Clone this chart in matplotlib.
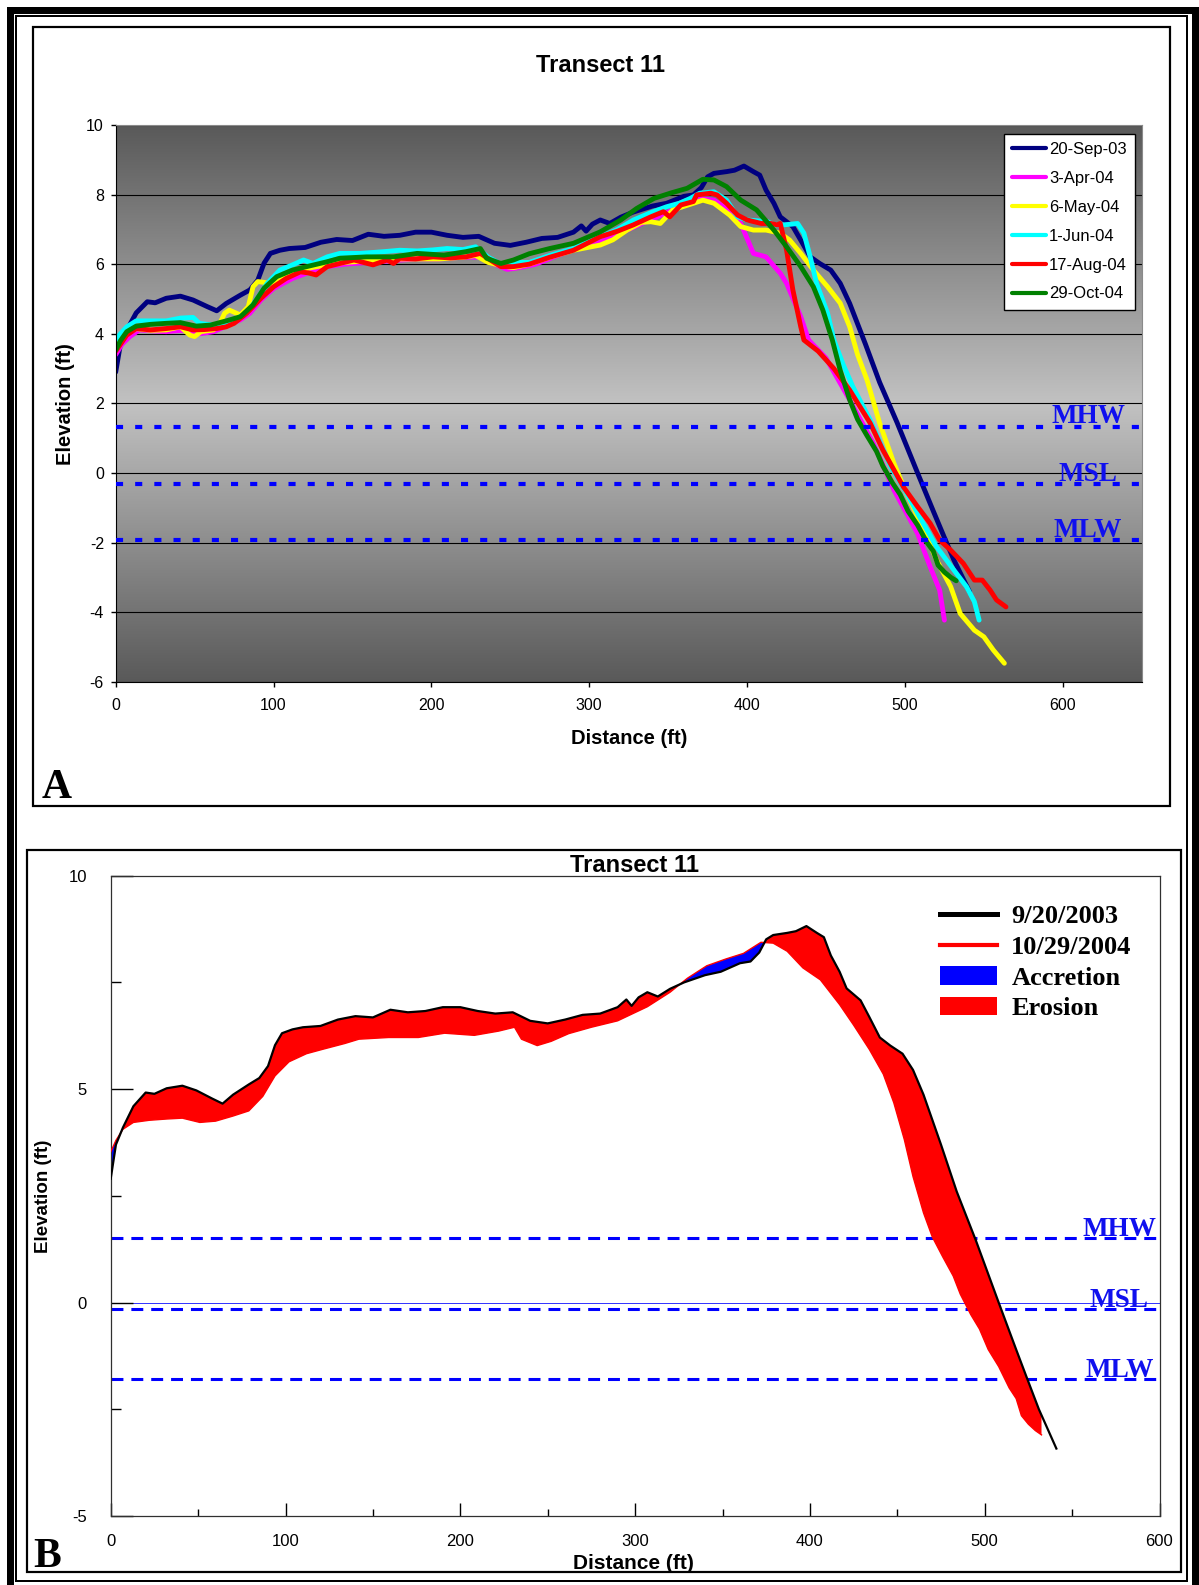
import numpy as np
import matplotlib
matplotlib.use("Agg")
import matplotlib.pyplot as plt
from matplotlib.patches import Rectangle, Patch
from matplotlib.lines import Line2D
from matplotlib.ticker import MultipleLocator

W, H, DPI = 1199, 1585, 100

# ---- beach profile surveys, Transect 11 (distance ft, elevation ft) ----
sep03_x = [0, 3, 7, 13, 20, 25, 32, 41, 49, 58, 64, 70, 79, 85, 90, 94, 98, 104, 110, 120,
           130, 140, 150, 160, 170, 180, 190, 200, 210, 220, 230, 240, 250, 260, 270, 280,
           290, 295, 298, 302, 307, 313, 320, 328, 340, 349, 360, 366, 371, 375, 379, 387,
           392, 398, 404, 408, 412, 417, 421, 425, 429, 434, 440, 446, 453, 459, 465, 475,
           484, 495, 508, 518, 524, 531, 541]
sep03_y = [2.9, 3.7, 4.1, 4.6, 4.92, 4.89, 5.02, 5.08, 4.97, 4.78, 4.66, 4.87, 5.11, 5.26,
           5.54, 6.03, 6.31, 6.4, 6.45, 6.48, 6.63, 6.71, 6.68, 6.86, 6.8, 6.83, 6.92, 6.92,
           6.83, 6.77, 6.8, 6.6, 6.54, 6.63, 6.74, 6.77, 6.92, 7.1, 6.95, 7.15, 7.27, 7.17,
           7.35, 7.5, 7.67, 7.75, 7.95, 7.99, 8.2, 8.51, 8.61, 8.66, 8.7, 8.82, 8.66, 8.56,
           8.13, 7.75, 7.36, 7.22, 7.08, 6.69, 6.21, 6.02, 5.83, 5.45, 4.87, 3.7, 2.6, 1.45,
           0.0, -1.1, -1.75, -2.5, -3.42]

apr04_x = [0, 4, 9, 15, 25, 32, 42, 53, 62, 70, 79, 85, 92, 100, 112, 121, 134, 145, 160,
           175, 190, 205, 220, 232, 240, 248, 256, 266, 280, 292, 305, 320, 335, 350, 362,
           370, 379, 387, 396, 404, 412, 421, 425, 434, 439, 450, 465, 480, 493, 508, 516,
           522, 525]
apr04_y = [3.4, 3.7, 3.92, 4.11, 4.08, 4.06, 4.1, 4.0, 4.06, 4.22, 4.4, 4.59, 4.97, 5.3,
           5.59, 5.74, 5.93, 6.0, 6.05, 6.1, 6.15, 6.15, 6.2, 6.2, 6.0, 5.85, 5.9, 6.0, 6.25,
           6.45, 6.65, 6.9, 7.2, 7.5, 7.75, 7.89, 7.84, 7.6, 7.17, 6.31, 6.21, 5.74, 5.45,
           4.49, 3.82, 3.3, 2.1, 0.85, -0.49, -1.74, -2.7, -3.37, -4.23]

may04_x = [0, 3, 7, 13, 22, 32, 41, 47, 50, 54, 62, 66, 69, 72, 76, 79, 84, 87, 90, 95, 100,
           108, 118, 130, 145, 160, 175, 190, 205, 220, 228, 236, 245, 252, 262, 275, 290,
           307, 315, 324, 333, 339, 345, 353, 366, 372, 379, 389, 396, 404, 412, 421, 427,
           434, 442, 451, 459, 465, 470, 476, 484, 493, 501, 512, 520, 529, 535, 544, 550,
           556, 563]
may04_y = [3.6, 3.8, 4.0, 4.15, 4.1, 4.11, 4.2, 3.96, 3.92, 4.06, 4.11, 4.3, 4.59, 4.68,
           4.6, 4.54, 4.78, 5.35, 5.5, 5.47, 5.45, 5.69, 5.85, 5.95, 6.05, 6.1, 6.15, 6.15,
           6.15, 6.2, 6.25, 6.05, 5.95, 5.9, 6.0, 6.2, 6.4, 6.55, 6.7, 6.98, 7.2, 7.22, 7.17,
           7.56, 7.75, 7.84, 7.75, 7.41, 7.08, 6.98, 6.98, 6.89, 6.69, 6.31, 5.83, 5.35, 4.88,
           4.2, 3.4, 2.67, 1.43, 0.28, -0.59, -1.64, -2.5, -3.27, -4.04, -4.52, -4.71, -5.09,
           -5.47]

jun04_x = [0, 3, 7, 13, 22, 32, 41, 49, 53, 58, 64, 70, 75, 83, 89, 96, 104, 112, 119, 125,
           134, 142, 155, 170, 180, 191, 201, 210, 220, 228, 236, 244, 252, 262, 275, 290,
           307, 318, 328, 340, 349, 357, 364, 370, 379, 387, 394, 400, 406, 413, 417, 423,
           428, 432, 436, 440, 444, 451, 455, 461, 467, 478, 491, 500, 508, 520, 531, 539,
           544, 547]
jun04_y = [3.82, 4.0, 4.2, 4.37, 4.37, 4.37, 4.45, 4.47, 4.3, 4.27, 4.25, 4.3, 4.4, 4.59,
           4.97, 5.45, 5.83, 5.98, 6.12, 6.02, 6.21, 6.31, 6.31, 6.36, 6.4, 6.38, 6.41, 6.45,
           6.42, 6.5, 6.2, 6.0, 6.05, 6.05, 6.25, 6.45, 6.79, 7.0, 7.27, 7.5, 7.65, 7.75,
           7.89, 8.04, 8.08, 7.84, 7.36, 7.27, 7.25, 7.22, 7.13, 7.13, 7.15, 7.17, 6.89, 6.21,
           5.45, 4.59, 3.82, 3.1, 2.48, 1.52, 0.18, -0.5, -1.16, -2.12, -2.79, -3.27, -3.7,
           -4.23]

aug04_x = [0, 3, 7, 13, 22, 32, 41, 49, 56, 64, 70, 75, 83, 92, 100, 108, 117, 122, 127,
           134, 142, 151, 157, 163, 172, 176, 180, 190, 201, 212, 222, 231, 238, 244, 252,
           262, 275, 290, 307, 318, 328, 339, 347, 351, 358, 366, 368, 377, 381, 387, 394,
           400, 409, 415, 419, 421, 425, 429, 434, 436, 445, 455, 465, 478, 486, 499, 508,
           516, 522, 529, 537, 544, 549, 554, 558, 564]
aug04_y = [3.5, 3.7, 3.96, 4.15, 4.11, 4.15, 4.2, 4.11, 4.12, 4.15, 4.2, 4.3, 4.59, 5.02,
           5.35, 5.59, 5.78, 5.75, 5.69, 5.93, 6.02, 6.12, 6.05, 5.98, 6.12, 6.02, 6.17,
           6.15, 6.21, 6.18, 6.21, 6.31, 6.1, 5.93, 5.93, 6.0, 6.2, 6.4, 6.79, 6.95, 7.13,
           7.36, 7.51, 7.36, 7.7, 7.8, 7.99, 8.04, 7.99, 7.75, 7.41, 7.27, 7.17, 7.17, 7.13,
           7.17, 6.41, 5.26, 4.2, 3.82, 3.5, 3.0, 2.38, 1.43, 0.66, -0.4, -0.97, -1.45,
           -1.93, -2.22, -2.6, -3.08, -3.08, -3.37, -3.65, -3.85]

oct04_x = [0, 3, 7, 13, 22, 32, 41, 51, 60, 70, 79, 87, 94, 102, 112, 121, 134, 142, 159,
           176, 191, 208, 222, 231, 235, 244, 252, 262, 275, 290, 307, 320, 330, 341, 352,
           362, 372, 379, 387, 396, 406, 417, 425, 434, 442, 448, 454, 459, 465, 470, 476,
           482, 486, 492, 497, 502, 508, 514, 518, 521, 525, 529, 532.5]
oct04_y = [3.53, 3.8, 4.06, 4.22, 4.27, 4.3, 4.32, 4.22, 4.25, 4.37, 4.49, 4.83, 5.31, 5.64,
           5.83, 5.93, 6.07, 6.17, 6.21, 6.21, 6.31, 6.26, 6.36, 6.45, 6.17, 6.02, 6.12, 6.3,
           6.45, 6.6, 6.93, 7.27, 7.6, 7.89, 8.05, 8.18, 8.44, 8.42, 8.23, 7.84, 7.56, 6.98,
           6.5, 5.93, 5.35, 4.68, 3.82, 2.95, 2.1, 1.54, 1.07, 0.62, 0.2, -0.28, -0.62, -1.1,
           -1.5, -2.0, -2.25, -2.65, -2.85, -3.0, -3.1]

survey_labels = ['20-Sep-03', '3-Apr-04', '6-May-04', '1-Jun-04', '17-Aug-04', '29-Oct-04']
survey_colors = ['#000080', '#ff00ff', '#ffff00', '#00ffff', '#ff0000', '#008000']
survey_x = [sep03_x, apr04_x, may04_x, jun04_x, aug04_x, oct04_x]
survey_y = [sep03_y, apr04_y, may04_y, jun04_y, aug04_y, oct04_y]

# tidal datums (ft) as plotted in each panel
datum_names = ['MHW', 'MSL', 'MLW']
datum_a = [1.33, -0.32, -1.93]
datum_b = [1.52, -0.14, -1.78]

change_labels = ['9/20/2003', '10/29/2004', 'Accretion', 'Erosion']

plt.rcParams['font.family'] = ['Liberation Sans', 'DejaVu Sans']
plt.rcParams['axes.unicode_minus'] = False
SERIF = ['Liberation Serif', 'DejaVu Serif']

fig = plt.figure(figsize=(W / DPI, H / DPI), dpi=DPI)


def fx(px):
    return px / W


def fy(py):
    return 1 - py / H


def frame(x0, y0, x1, y1, lw_px, color='black'):
    fig.patches.append(Rectangle((fx(x0), fy(y1)), fx(x1) - fx(x0), fy(y0) - fy(y1),
                                 transform=fig.transFigure, fill=False,
                                 lw=lw_px * 0.72, ec=color, zorder=10))


# page borders
frame(9.5, 9.5, 1195, 1592, 7)
frame(15.5, 16, 1187.5, 1581, 2)
frame(33, 27, 1170, 806, 2.2)
frame(27, 850, 1181, 1572, 2.2)

# ================= Panel A: all surveys =================
axA = fig.add_axes([fx(115.7), fy(681.7), fx(1141.7) - fx(115.7), fy(125) - fy(681.7)])
axA.set_xlim(0, 650)
axA.set_ylim(-6, 10)

# grey plot-area fill, light in the middle and darker to top and bottom
t = np.abs(np.linspace(-1, 1, 400))
dark, light = np.array([0.35, 0.35, 0.35]), np.array([0.76, 0.76, 0.76])
grad = light[None, :] - (light - dark)[None, :] * t[:, None]
axA.imshow(grad[:, None, :], extent=(0, 650, -6, 10), aspect='auto', zorder=0,
           interpolation='bilinear')

axA.set_axisbelow(True)
axA.set_yticks(np.arange(-6, 11, 2))
axA.set_xticks(np.arange(0, 601, 100))
axA.grid(axis='y', color='black', lw=0.8)
axA.tick_params(direction='out', length=3.5, width=1, labelsize=11.5, colors='black')
axA.tick_params(axis='y', pad=5)
axA.tick_params(axis='x', pad=8.5)
for s in ['top', 'right']:
    axA.spines[s].set_color('#8a8a8a')
for s in ['left', 'bottom']:
    axA.spines[s].set_color('black')

for xs, ys, c, lab in zip(survey_x, survey_y, survey_colors, survey_labels):
    axA.plot(xs, ys, color=c, lw=3.5, label=lab, solid_capstyle='round', zorder=2)

for name, lvl in zip(datum_names, datum_a):
    axA.axhline(lvl, color='#0000ff', lw=3, ls=(0, (1.7, 2.9)), zorder=3)
    axA.text(616, lvl + 0.1, name, color='#1010ee', ha='center', va='baseline',
             family=SERIF, weight='bold', size=19.5, zorder=4)

legA = axA.legend(loc='upper left', bbox_to_anchor=(fx(1004), fy(134)),
                  bbox_transform=fig.transFigure, borderaxespad=0, fontsize=12,
                  handlelength=2.0, handletextpad=0.2, labelspacing=0.83,
                  borderpad=0.5, fancybox=False, framealpha=1, edgecolor='black')
legA.get_frame().set_linewidth(1)
for ln in legA.get_lines():
    ln.set_linewidth(3)

fig.text(fx(600), fy(65), 'Transect 11', ha='center', va='center', weight='bold',
         size=17)
axA.set_ylabel('Elevation (ft)', weight='bold', size=14.5)
axA.yaxis.set_label_coords(fx(75), fy(404), transform=fig.transFigure)
axA.set_xlabel('Distance (ft)', weight='bold', size=14.5)
axA.xaxis.set_label_coords(fx(629), fy(729), transform=fig.transFigure)
fig.text(fx(42), fy(798), 'A', family=SERIF, weight='bold', size=30, va='baseline')

# ================= Panel B: change between first and last survey =================
axB = fig.add_axes([fx(110.7), fy(1516), fx(1159.5) - fx(110.7), fy(875.7) - fy(1516)])
axB.set_xlim(0, 600)
axB.set_ylim(-5, 10)

x_end = min(sep03_x[-1], oct04_x[-1])
xg = np.linspace(0, x_end, 3000)
old = np.interp(xg, sep03_x, sep03_y)
new = np.interp(xg, oct04_x, oct04_y)
axB.fill_between(xg, old, new, where=new < old, interpolate=True, color='#ff0000',
                 lw=0, zorder=2)
axB.fill_between(xg, old, new, where=new >= old, interpolate=True, color='#0000ff',
                 lw=0, zorder=2)
axB.plot(oct04_x, oct04_y, color='#ff0000', lw=1.0, zorder=3)
axB.plot(sep03_x, sep03_y, color='black', lw=1.6, zorder=4)

axB.axhline(0, color='#3030ff', lw=0.7, zorder=1)
for name, lvl in zip(datum_names, datum_b):
    axB.axhline(lvl, color='#0000ff', lw=2.2, ls=(0, (3.9, 2.6)), zorder=1)
    axB.text(577, lvl + 0.03, name, color='#1010ee', ha='center', va='baseline',
             family=SERIF, weight='bold', size=19.5, zorder=5)

axB.xaxis.set_major_locator(MultipleLocator(100))
axB.xaxis.set_minor_locator(MultipleLocator(50))
axB.yaxis.set_major_locator(MultipleLocator(5))
axB.yaxis.set_minor_locator(MultipleLocator(2.5))
axB.tick_params(axis='y', which='major', direction='in', length=16, width=1, pad=17,
                labelsize=12)
axB.tick_params(axis='y', which='minor', direction='in', length=7, width=1)
axB.tick_params(axis='x', which='major', direction='in', length=9.5, width=1, pad=13,
                labelsize=12)
axB.tick_params(axis='x', which='minor', direction='in', length=5, width=1)
for s in axB.spines.values():
    s.set_color('#303030')
    s.set_linewidth(0.9)

handles = [Line2D([], [], color='black', lw=3.6),
           Line2D([], [], color='#ff0000', lw=3.0),
           Patch(fc='#0000ff', ec='none'),
           Patch(fc='#ff0000', ec='none')]
axB.legend(handles, change_labels, loc='upper left', bbox_to_anchor=(fx(940), fy(905)),
           bbox_transform=fig.transFigure, frameon=False, borderpad=0, borderaxespad=0,
           handlelength=2.15, handleheight=0.68, handletextpad=0.55, labelspacing=0.28,
           prop=dict(family=SERIF, weight='bold', size=19))

fig.text(fx(634), fy(866), 'Transect 11', ha='center', va='center', weight='bold',
         size=17)
axB.set_ylabel('Elevation (ft)', weight='bold', size=13.5)
axB.yaxis.set_label_coords(fx(52), fy(1196), transform=fig.transFigure)
axB.set_xlabel('Distance (ft)', weight='bold', size=15)
axB.xaxis.set_label_coords(fx(633), fy(1554), transform=fig.transFigure)
fig.text(fx(33), fy(1567), 'B', family=SERIF, weight='bold', size=30, va='baseline')

fig.savefig('out.png', dpi=DPI)
